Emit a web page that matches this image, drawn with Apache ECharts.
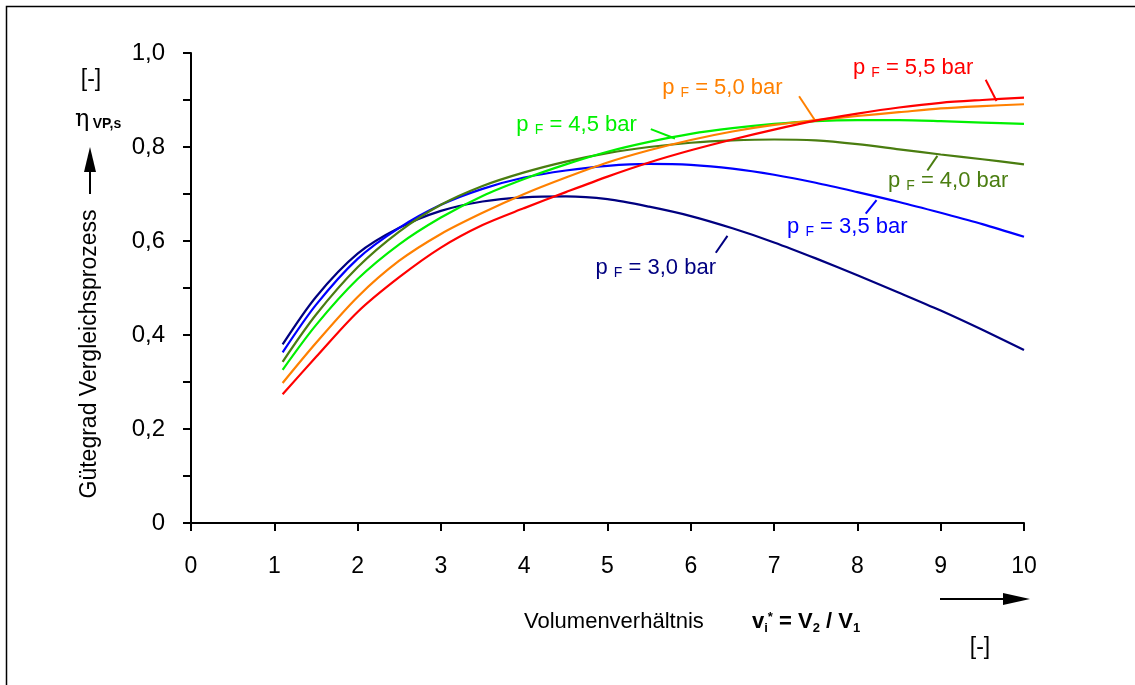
<!DOCTYPE html>
<html>
<head>
<meta charset="utf-8">
<script src="https://cdn.jsdelivr.net/npm/echarts@6/dist/echarts.min.js"></script>
<style>
  html, body { margin: 0; padding: 0; background: #fff; }
  #main { width: 1135px; height: 685px; }
</style>
</head>
<body>
<div id="main"></div>
<script>
// Volumenverhältnis v_i*
var xValues = [1.1, 1.5, 2, 2.5, 3, 3.5, 4, 4.5, 5, 5.5, 6, 6.5, 7, 7.5, 8, 8.5, 9, 9.5, 10];

// Gütegrad je Fülldruck p_F
var pF30 = [0.380, 0.481, 0.573, 0.628, 0.664, 0.684, 0.693, 0.695, 0.689, 0.673, 0.653, 0.627, 0.597, 0.563, 0.527, 0.490, 0.452, 0.411, 0.368];
var pF35 = [0.363, 0.464, 0.562, 0.628, 0.677, 0.711, 0.735, 0.750, 0.760, 0.764, 0.762, 0.754, 0.741, 0.724, 0.704, 0.683, 0.660, 0.636, 0.609];
var pF40 = [0.343, 0.443, 0.544, 0.620, 0.677, 0.717, 0.746, 0.769, 0.787, 0.800, 0.809, 0.814, 0.816, 0.814, 0.806, 0.795, 0.784, 0.774, 0.763];
var pF45 = [0.326, 0.421, 0.519, 0.593, 0.650, 0.696, 0.732, 0.763, 0.790, 0.811, 0.828, 0.840, 0.849, 0.855, 0.857, 0.857, 0.855, 0.852, 0.849];
var pF50 = [0.298, 0.383, 0.481, 0.558, 0.615, 0.660, 0.700, 0.735, 0.767, 0.793, 0.815, 0.833, 0.847, 0.857, 0.866, 0.874, 0.882, 0.887, 0.891];
var pF55 = [0.274, 0.353, 0.449, 0.523, 0.586, 0.634, 0.670, 0.704, 0.737, 0.767, 0.793, 0.816, 0.837, 0.856, 0.871, 0.884, 0.894, 0.900, 0.905];

var seriesNames = ['3,0', '3,5', '4,0', '4,5', '5,0', '5,5'];
var seriesData = [pF30, pF35, pF40, pF45, pF50, pF55];
var colors = ['#000080', '#0000ff', '#4a7d10', '#00f000', '#ff8000', '#ff0000'];

// Beschriftung: Textanker [x, y] und Hinweislinie [[x1, y1], [x2, y2]]
var labelPos = [[4.85, 0.543], [7.15, 0.630], [8.36, 0.728], [3.90, 0.847], [5.65, 0.926], [7.94, 0.968]];
var leaderLines = [
  [[6.30, 0.575], [6.44, 0.611]],
  [[8.10, 0.658], [8.23, 0.687]],
  [[8.84, 0.750], [8.96, 0.781]],
  [[5.52, 0.838], [5.81, 0.818]],
  [[7.30, 0.908], [7.49, 0.857]],
  [[9.54, 0.943], [9.67, 0.898]]
];

var yTicks = [0, 0.2, 0.4, 0.6, 0.8, 1.0];
var xTicks = [0, 1, 2, 3, 4, 5, 6, 7, 8, 9, 10];

var font = '"Liberation Sans", Arial, Helvetica, sans-serif';

function pairs(xs, ys) {
  var out = [];
  for (var i = 0; i < xs.length; i++) out.push([xs[i], ys[i]]);
  return out;
}

var series = [];
for (var i = 0; i < seriesData.length; i++) {
  series.push({
    name: 'p_F = ' + seriesNames[i] + ' bar',
    type: 'line',
    smooth: 0.3,
    showSymbol: false,
    symbol: 'none',
    data: pairs(xValues, seriesData[i]),
    lineStyle: { color: colors[i], width: 2.2 },
    z: 3 + i,
    markLine: {
      silent: true,
      symbol: ['none', 'none'],
      label: { show: false },
      lineStyle: { color: colors[i], width: 2, type: 'solid' },
      data: [[{ coord: leaderLines[i][0] }, { coord: leaderLines[i][1] }]]
    },
    markPoint: {
      silent: true,
      symbol: 'rect',
      symbolSize: 1,
      itemStyle: { color: 'rgba(0,0,0,0)' },
      data: [{
        coord: labelPos[i],
        label: {
          show: true,
          position: 'right',
          distance: 0,
          formatter: '{p|p }{s|F}{p| = ' + seriesNames[i] + ' bar}',
          rich: {
            p: { fontSize: 22, fontFamily: font, color: colors[i] },
            s: { fontSize: 14, fontFamily: font, color: colors[i], padding: [10, 0, 0, 0] }
          }
        }
      }]
    }
  });
}

var chart = echarts.init(document.getElementById('main'));

chart.setOption({
  animation: false,
  backgroundColor: '#fff',
  grid: { left: 191, top: 53, width: 833, height: 470, containLabel: false, outerBoundsMode: 'none' },
  xAxis: {
    type: 'value',
    min: xTicks[0],
    max: xTicks[xTicks.length - 1],
    interval: 1,
    axisLine: { show: true, onZero: false, lineStyle: { color: '#000', width: 2 } },
    axisTick: { show: true, inside: false, length: 8, lineStyle: { color: '#000', width: 2 } },
    axisLabel: { color: '#000', fontSize: 23, fontFamily: font, margin: 32 },
    splitLine: { show: false }
  },
  yAxis: {
    type: 'value',
    min: yTicks[0],
    max: yTicks[yTicks.length - 1],
    interval: 0.2,
    axisLine: { show: true, onZero: false, lineStyle: { color: '#000', width: 2 } },
    axisTick: { show: true, inside: false, length: 8, lineStyle: { color: '#000', width: 2 } },
    minorTick: { show: true, splitNumber: 2, length: 8, lineStyle: { color: '#000', width: 2 } },
    axisLabel: {
      color: '#000', fontSize: 24, fontFamily: font, margin: 26,
      formatter: function (v) { return v === 0 ? '0' : v.toFixed(1).replace('.', ','); }
    },
    splitLine: { show: false },
    minorSplitLine: { show: false }
  },
  series: series,
  graphic: [
    // Rahmen
    { type: 'rect', shape: { x: 6.5, y: 6.5, width: 1200, height: 800 }, style: { fill: 'none', stroke: '#000', lineWidth: 1.5 }, silent: true },
    // y-Achsentitel
    {
      type: 'text', x: 90, y: 354, rotation: Math.PI / 2,
      style: { text: 'Gütegrad Vergleichsprozess', font: '23px ' + font, fill: '#000', align: 'center', verticalAlign: 'middle' }
    },
    { type: 'line', shape: { x1: 90, y1: 194, x2: 90, y2: 162 }, style: { stroke: '#000', lineWidth: 2 } },
    { type: 'polygon', shape: { points: [[90, 147], [84, 172], [96, 172]] }, style: { fill: '#000' } },
    {
      type: 'text', x: 75, y: 120,
      style: {
        text: '{e|η} {s|VP,s}', verticalAlign: 'middle',
        rich: {
          e: { font: '24px "DejaVu Serif", serif', fill: '#000' },
          s: { font: 'bold 14px ' + font, fill: '#000', padding: [8, 0, 0, 0] }
        }
      }
    },
    { type: 'text', x: 91, y: 80, style: { text: '[-]', font: '23px ' + font, fill: '#000', align: 'center', verticalAlign: 'middle' } },
    // x-Achsentitel
    { type: 'text', x: 524, y: 622, style: { text: 'Volumenverhältnis', font: '22px ' + font, fill: '#000', verticalAlign: 'middle' } },
    {
      type: 'text', x: 752, y: 622,
      style: {
        text: '{b|v}{sub|i}{sup|*}{b| = V}{sub|2}{b| / V}{sub|1}', verticalAlign: 'middle',
        rich: {
          b: { font: 'bold 22px ' + font, fill: '#000' },
          sub: { font: 'bold 13px ' + font, fill: '#000', padding: [12, 0, 0, 0] },
          sup: { font: 'bold 13px ' + font, fill: '#000', padding: [0, 0, 10, 0] }
        }
      }
    },
    { type: 'line', shape: { x1: 940, y1: 599, x2: 1006, y2: 599 }, style: { stroke: '#000', lineWidth: 2 } },
    { type: 'polygon', shape: { points: [[1030, 599], [1003, 593], [1003, 605]] }, style: { fill: '#000' } },
    { type: 'text', x: 980, y: 648, style: { text: '[-]', font: '23px ' + font, fill: '#000', align: 'center', verticalAlign: 'middle' } }
  ]
});
</script>
</body>
</html>
